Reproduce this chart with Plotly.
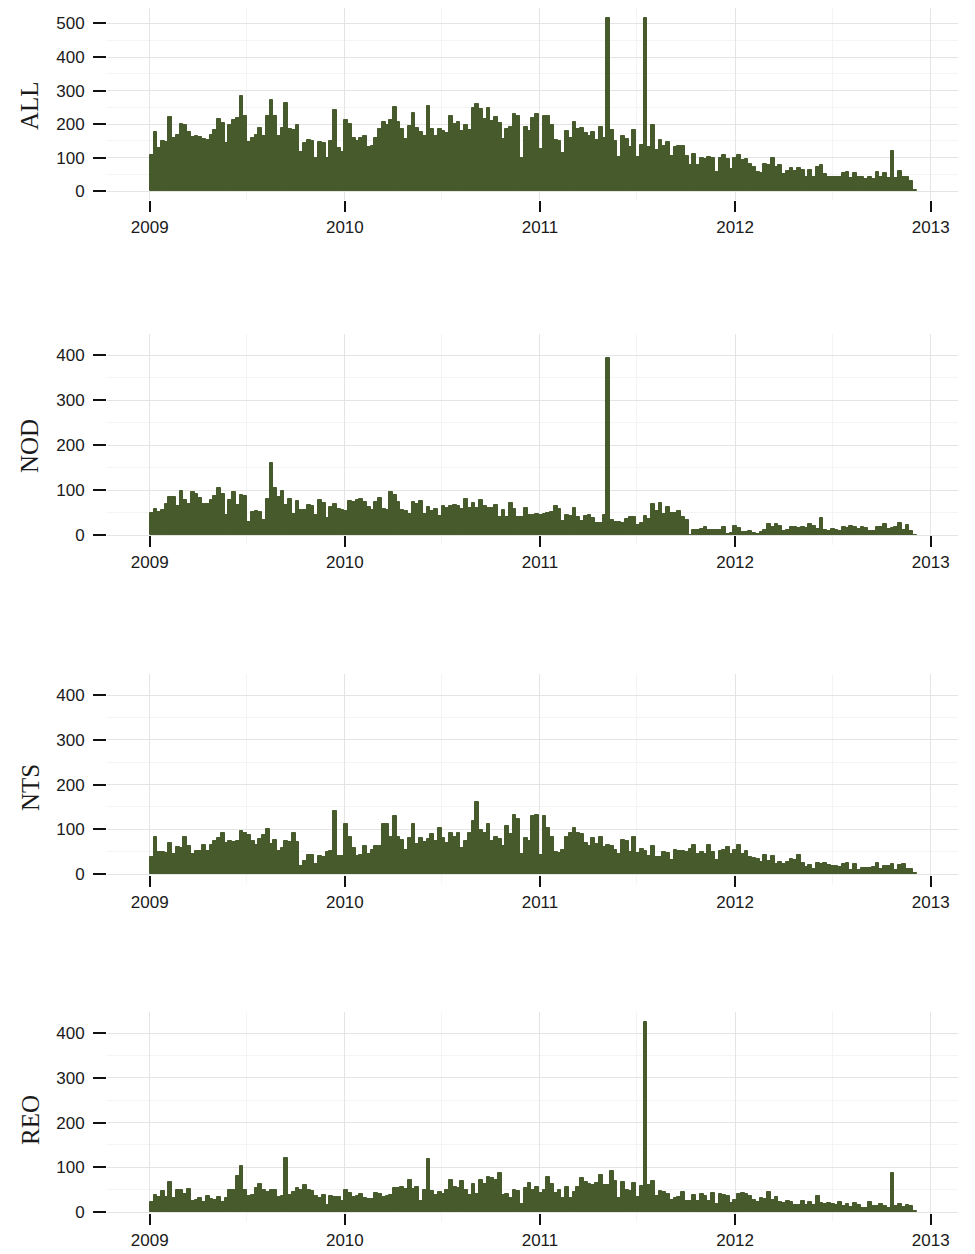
import pandas as pd
import plotly.graph_objects as go

# weekly counts (205 weeks from 2009-01-01)
all_counts = [
    109, 177, 130, 149, 146, 220, 160, 169, 200, 196,
    177, 163, 166, 163, 156, 152, 169, 183, 214, 203,
    143, 197, 211, 217, 285, 225, 146, 158, 169, 189,
    166, 223, 271, 225, 166, 189, 262, 186, 183, 197,
    118, 143, 152, 149, 99, 146, 143, 99, 149, 242,
    129, 118, 211, 200, 160, 149, 160, 166, 132, 135,
    160, 186, 206, 197, 211, 251, 206,
    186, 156, 194, 234, 189, 177, 166, 254, 186, 166,
    186, 180, 175, 223, 200, 206, 180, 197, 183, 248,
    259, 245, 214, 248, 208, 220, 203, 155, 186, 192,
    231, 225, 99, 192, 180, 217, 231, 126, 223, 225,
    197, 152, 149, 115, 180, 160, 206, 186, 189, 175,
    166, 177, 152, 192, 160, 517, 183, 149, 101, 166,
    155, 132, 183, 101, 138, 517, 132, 197, 124,
    152, 135, 146, 104, 132, 135, 135, 104, 78, 112,
    78, 98, 95, 101, 98, 58, 98, 107, 95, 67,
    98, 107, 92, 95, 81, 73, 58, 53, 81, 78,
    98, 73, 78, 50, 61, 70, 61, 70, 64, 44,
    64, 44, 73, 78, 50, 44, 44, 42, 44, 53,
    56, 39, 53, 42, 44, 36, 42, 36, 56, 44,
    53, 39, 121, 39, 61, 42, 44, 30, 5,
]

nod_counts = [
    50, 59, 51, 56, 69, 84, 84, 64, 98, 78,
    69, 96, 91, 82, 69, 69, 78, 87, 104, 91,
    44, 78, 96, 67, 89, 87, 29, 51, 53, 51,
    33, 80, 160, 104, 84, 98, 67, 80, 47, 76,
    56, 56, 67, 64, 44, 78, 71, 38, 62, 69,
    58, 56, 53, 76, 73, 78, 80, 73, 62, 56,
    73, 82, 58, 56, 96, 89, 73,
    56, 53, 47, 73, 69, 76, 47, 62, 53, 58,
    42, 64, 60, 64, 67, 64, 58, 80, 60, 71,
    60, 78, 64, 60, 60, 67, 40, 56, 40, 71,
    58, 40, 40, 60, 44, 44, 47, 44, 47, 49,
    51, 64, 58, 31, 44, 42, 60, 40, 31, 42,
    44, 38, 27, 27, 44, 393, 33, 29, 29, 27,
    36, 40, 40, 22, 27, 42, 36, 69, 53,
    71, 47, 62, 49, 49, 53, 40, 33, 0, 11,
    11, 13, 18, 11, 11, 11, 11, 18, 2, 4,
    20, 16, 7, 7, 9, 4, 2, 7, 11, 24,
    18, 24, 20, 9, 11, 18, 18, 16, 18, 16,
    24, 20, 13, 38, 11, 9, 13, 11, 9, 18,
    16, 20, 18, 13, 18, 16, 9, 9, 18, 18,
    24, 13, 16, 18, 27, 11, 22, 9, 0,
]

nts_counts = [
    38, 82, 49, 49, 47, 69, 44, 60, 58, 82,
    62, 44, 51, 51, 64, 51, 64, 73, 80, 91,
    69, 73, 71, 73, 96, 91, 87, 73, 64, 78,
    87, 100, 67, 76, 51, 58, 73, 71, 93, 71,
    18, 29, 42, 42, 22, 40, 38, 49, 51, 142,
    40, 40, 111, 84, 58, 40, 42, 62, 44, 53,
    62, 62, 111, 111, 84, 129, 82,
    76, 53, 80, 111, 67, 80, 71, 78, 89, 73,
    102, 80, 69, 91, 82, 91, 58, 73, 93, 118,
    162, 98, 91, 113, 73, 84, 78, 62, 107, 89,
    131, 124, 44, 80, 73, 129, 131, 42, 129, 102,
    84, 49, 47, 53, 84, 91, 104, 93, 89, 69,
    62, 80, 67, 84, 60, 64, 62, 53, 44, 76,
    73, 49, 82, 47, 56, 51, 40, 62, 38,
    38, 49, 47, 31, 53, 51, 51, 49, 56, 64,
    44, 49, 44, 64, 49, 31, 51, 53, 60, 44,
    53, 64, 44, 51, 38, 36, 33, 27, 42, 29,
    40, 22, 27, 22, 27, 33, 31, 42, 24, 16,
    20, 11, 24, 22, 24, 20, 18, 18, 16, 22,
    24, 9, 22, 9, 13, 13, 13, 16, 24, 11,
    18, 18, 22, 9, 20, 22, 11, 11, 2,
]

reo_counts = [
    22, 38, 33, 47, 33, 68, 31, 49, 49, 40,
    51, 24, 27, 31, 22, 36, 29, 27, 33, 22,
    31, 49, 49, 80, 104, 49, 36, 38, 53, 62,
    49, 44, 49, 49, 33, 36, 122, 38, 44, 53,
    49, 60, 49, 47, 36, 31, 38, 16, 36, 33,
    33, 24, 49, 42, 33, 36, 40, 31, 29, 29,
    42, 40, 33, 36, 38, 53, 53,
    56, 51, 71, 51, 56, 24, 49, 118, 47, 38,
    44, 40, 49, 71, 56, 53, 69, 49, 38, 62,
    40, 71, 62, 78, 76, 71, 87, 38, 40, 31,
    49, 47, 18, 53, 64, 49, 56, 42, 49, 78,
    62, 42, 49, 31, 56, 31, 44, 56, 76, 67,
    62, 60, 64, 82, 60, 60, 91, 69, 31, 67,
    49, 47, 64, 33, 58, 425, 60, 69, 36,
    47, 44, 40, 27, 31, 33, 44, 24, 24, 38,
    24, 40, 36, 24, 42, 18, 40, 38, 36, 20,
    27, 40, 42, 40, 36, 27, 22, 31, 29, 44,
    27, 33, 22, 20, 24, 22, 16, 16, 24, 16,
    22, 16, 36, 20, 18, 20, 18, 16, 22, 13,
    18, 11, 20, 16, 9, 9, 22, 13, 13, 18,
    13, 9, 87, 13, 18, 11, 16, 13, 2,
]

panel_names = ["ALL", "NOD", "NTS", "REO"]
panel_counts = [all_counts, nod_counts, nts_counts, reo_counts]
year_ticks = ["2009-01-01", "2010-01-01", "2011-01-01", "2012-01-01", "2013-01-01"]
year_labels = ["2009", "2010", "2011", "2012", "2013"]

weeks = pd.date_range("2009-01-01", periods=205, freq="7D")
WEEK_MS = 7 * 24 * 3600 * 1000
GREEN = "#475a2b"

# the page body has an 8px margin, so the figure starts at (8, 8)
OFF = 8
FW = 975 - OFF
FH = 1254 - OFF


def fx(p):
    return (p - OFF) / FW


def fy(p):
    return 1 - (p - OFF) / FH


# panel pixel extents on the page (top, bottom), x-axis line, y ranges, title centres
panels_px = [(0, 200), (334, 545), (674, 884), (1012, 1222)]
axis_px = [200, 535, 875, 1213]
y_ranges = [[-26, 546], [-22, 447], [-22, 447], [-22, 447]]
title_y = [106, 446, 788, 1120]

fig = go.Figure()
layout = dict(
    width=FW, height=FH,
    margin=dict(l=0, r=0, t=0, b=0),
    template="none",
    paper_bgcolor="white", plot_bgcolor="white",
    showlegend=False,
    bargap=0,
    font=dict(family="Liberation Sans, Arial, sans-serif", size=17, color="#1a1a1a"),
    annotations=[],
)

for i, (name, counts) in enumerate(zip(panel_names, panel_counts)):
    n = i + 1
    fig.add_trace(go.Bar(
        x=weeks[:len(counts)], y=counts,
        xaxis=f"x{n}", yaxis=f"y{n}",
        width=WEEK_MS, offset=0,
        marker=dict(color=GREEN, line=dict(width=1, color=GREEN)),
    ))
    top, bot = panels_px[i]
    layout[f"xaxis{n}"] = dict(
        type="date", anchor="free", position=max(fy(axis_px[i]), 0),
        domain=[max(fx(107), 0), fx(958)],
        range=["2008-10-13", "2013-02-21"],
        tickvals=year_ticks, ticktext=year_labels,
        showgrid=True, gridcolor="#e4e4e4", gridwidth=1.3,
        minor=dict(dtick="M6", tick0="2009-01-01", showgrid=True,
                   gridcolor="#f4f4f4", gridwidth=1.3),
        ticks="outside", ticklen=11, tickwidth=2, tickcolor="#111111",
        ticklabelstandoff=1,
        showline=False, zeroline=False, automargin=False,
    )
    layout[f"yaxis{n}"] = dict(
        anchor=f"x{n}",
        domain=[max(fy(bot), 0), min(fy(top), 1)],
        range=y_ranges[i],
        dtick=100, tick0=0,
        showgrid=True, gridcolor="#e4e4e4", gridwidth=1.3,
        minor=dict(dtick=50, tick0=0, showgrid=True, gridcolor="#f4f4f4", gridwidth=1.3),
        ticks="outside", ticklen=13, tickwidth=2, tickcolor="#111111",
        ticklabelstandoff=5,
        showline=False, zeroline=False, automargin=False,
    )
    layout["annotations"].append(dict(
        text=name, xref="paper", yref="paper",
        x=fx(30), y=fy(title_y[i]),
        xanchor="center", yanchor="middle",
        textangle=-90, showarrow=False,
        font=dict(family="Liberation Serif, Times New Roman, serif", size=25, color="#1a1a1a"),
    ))

fig.update_layout(**layout)
fig.write_html("out.html")
